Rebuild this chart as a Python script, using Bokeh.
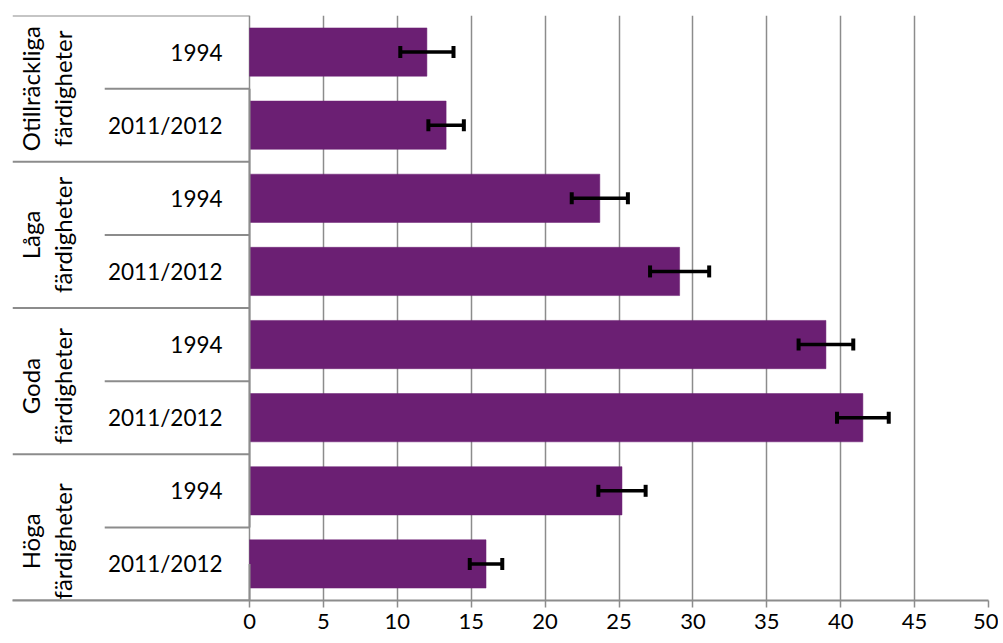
import math
from bokeh.plotting import figure
from bokeh.models import (ColumnDataSource, FactorRange, Range1d, FixedTicker,
                          Whisker, TeeHead)
from bokeh.core.properties import value
from bokeh.embed import file_html
from bokeh.resources import INLINE

# ---------------- data ----------------
groups = ["Otillräckliga färdigheter", "Låga färdigheter",
          "Goda färdigheter", "Höga färdigheter"]
group_text = ["Otillräckliga\nfärdigheter", "Låga\nfärdigheter",
              "Goda\nfärdigheter", "Höga\nfärdigheter"]
years = ["1994", "2011/2012"]
# values (percent) in order: group by group, 1994 then 2011/2012
values = [12.0, 13.3, 23.7, 29.1, 39.0, 41.5, 25.2, 16.0]
errors = [1.8, 1.2, 1.9, 2.0, 1.85, 1.75, 1.6, 1.1]
x_ticks = [0, 5, 10, 15, 20, 25, 30, 35, 40, 45, 50]

# ---------------- layout / style ----------------
FONT = "Lato"
BAR_COLOR = "#6B1F73"
GRID_COLOR = "#8C8C8C"
X_START = -16.04      # left edge of the category table (data units)
X_SUB = -9.8          # left edge of the sub-category separators
GROUP_Y_OFFSETS = [0, 0, 5, 14]

factors = [(g, y) for g in groups for y in years]
y_range = FactorRange(*reversed(factors), factor_padding=0, group_padding=0,
                      subgroup_padding=0, range_padding=0)

p = figure(width=998, height=640,
           x_range=Range1d(X_START, x_ticks[-1]), y_range=y_range,
           output_backend="svg", toolbar_location=None,
           y_axis_location=None, min_border_left=12, min_border_right=10,
           min_border_top=15, min_border_bottom=40)
p.outline_line_color = None
p.background_fill_color = "white"
p.border_fill_color = "white"

# grid
p.ygrid.visible = False
p.xgrid.ticker = FixedTicker(ticks=x_ticks)
p.xgrid.grid_line_color = GRID_COLOR
p.xgrid.grid_line_width = 1.5

# x axis
ax = p.xaxis[0]
ax.ticker = FixedTicker(ticks=x_ticks)
ax.axis_line_color = GRID_COLOR
ax.axis_line_width = 2
ax.major_tick_line_color = GRID_COLOR
ax.major_tick_line_width = 1.5
ax.major_tick_out = 7
ax.major_tick_in = 0
ax.minor_tick_line_color = None
ax.major_label_standoff = 6
ax.major_label_text_font = FONT
ax.major_label_text_font_size = "22px"
ax.major_label_text_color = "black"

# bars
src = ColumnDataSource(dict(
    y=factors, v=values,
    lo=[v - e for v, e in zip(values, errors)],
    hi=[v + e for v, e in zip(values, errors)],
    year=[f[1] for f in factors],
))
p.hbar(y="y", right="v", left=0, height=0.66, source=src,
       fill_color=BAR_COLOR, line_color=BAR_COLOR, line_width=0.5)

# error bars
w = Whisker(base="y", lower="lo", upper="hi", source=src, dimension="width",
            line_color="black", line_width=3.5, level="annotation",
            lower_head=TeeHead(size=12, line_color="black", line_width=4),
            upper_head=TeeHead(size=12, line_color="black", line_width=4))
p.add_layout(w)

# table separators (category axis)
grp_bounds = [(g, years[0], 0.5) for g in groups] + [(groups[-1], years[-1], -0.5)]
p.segment(x0=X_START, x1=0, y0=grp_bounds, y1=grp_bounds,
          line_color=GRID_COLOR, line_width=2)
sub_bounds = [(g, years[0], -0.5) for g in groups]
p.segment(x0=X_SUB, x1=0, y0=sub_bounds, y1=sub_bounds,
          line_color=GRID_COLOR, line_width=2)
# vertical axis line
p.segment(x0=0, x1=0, y0=grp_bounds[0], y1=grp_bounds[-1],
          line_color=GRID_COLOR, line_width=2)

# year labels
p.text(x=0, y="y", text="year", source=src, x_offset=-27,
       text_align="right", text_baseline="middle",
       text_font=value(FONT), text_font_size="22.5px", text_color="black")

# group labels (rotated, two lines)
gsrc = ColumnDataSource(dict(y=groups, t=group_text, yo=GROUP_Y_OFFSETS))
p.text(x=0, y="y", text="t", source=gsrc, x_offset=-203, y_offset="yo",
       angle=math.pi / 2, text_align="center", text_baseline="middle",
       text_line_height=1.08,
       text_font=value(FONT), text_font_size="24px", text_color="black")

open("out.html", "w").write(file_html(p, INLINE))
